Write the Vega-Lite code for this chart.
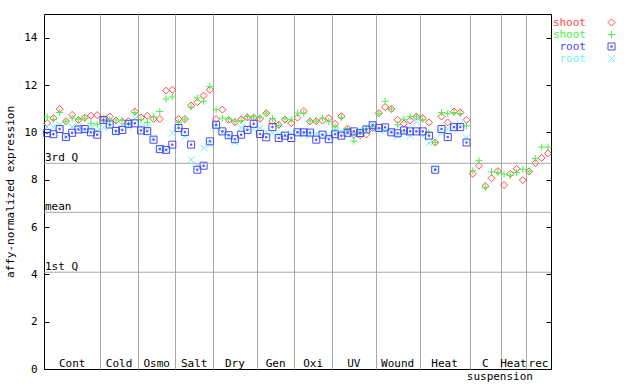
{
"$schema": "https://vega.github.io/schema/vega-lite/v6.json",
"width": 507, "height": 355,
"autosize": {"type": "none"},
"padding": {"left": 44, "top": 14, "right": 89, "bottom": 15},
"background": "white",
"config": {"view": {"stroke": "#000000", "strokeWidth": 1}, "font": "DejaVu Sans Mono"},
"datasets": {
"stats": [{"label": "3rd Q", "v": 8.69}, {"label": "mean", "v": 6.62}, {"label": "1st Q", "v": 4.09}],
"expr": [
{"i":0,"group":"Cont","tissue":"seedling","series":"shoot1","v":10.39},
{"i":1,"group":"Cont","tissue":"seedling","series":"shoot1","v":10.6},
{"i":2,"group":"Cont","tissue":"seedling","series":"shoot1","v":10.98},
{"i":3,"group":"Cont","tissue":"seedling","series":"shoot1","v":10.47},
{"i":4,"group":"Cont","tissue":"seedling","series":"shoot1","v":10.74},
{"i":5,"group":"Cont","tissue":"seedling","series":"shoot1","v":10.52},
{"i":6,"group":"Cont","tissue":"seedling","series":"shoot1","v":10.62},
{"i":7,"group":"Cont","tissue":"seedling","series":"shoot1","v":10.7},
{"i":8,"group":"Cont","tissue":"seedling","series":"shoot1","v":10.73},
{"i":9,"group":"Cold","tissue":"seedling","series":"shoot1","v":10.55},
{"i":10,"group":"Cold","tissue":"seedling","series":"shoot1","v":10.67},
{"i":11,"group":"Cold","tissue":"seedling","series":"shoot1","v":10.5},
{"i":12,"group":"Cold","tissue":"seedling","series":"shoot1","v":10.45},
{"i":13,"group":"Cold","tissue":"seedling","series":"shoot1","v":10.47},
{"i":14,"group":"Cold","tissue":"seedling","series":"shoot1","v":10.88},
{"i":15,"group":"Osmo","tissue":"seedling","series":"shoot1","v":10.63},
{"i":16,"group":"Osmo","tissue":"seedling","series":"shoot1","v":10.7},
{"i":17,"group":"Osmo","tissue":"seedling","series":"shoot1","v":10.57},
{"i":18,"group":"Osmo","tissue":"seedling","series":"shoot1","v":10.56},
{"i":19,"group":"Osmo","tissue":"seedling","series":"shoot1","v":11.76},
{"i":20,"group":"Osmo","tissue":"seedling","series":"shoot1","v":11.8},
{"i":21,"group":"Salt","tissue":"seedling","series":"shoot1","v":10.56},
{"i":22,"group":"Salt","tissue":"seedling","series":"shoot1","v":10.56},
{"i":23,"group":"Salt","tissue":"seedling","series":"shoot1","v":11.13},
{"i":24,"group":"Salt","tissue":"seedling","series":"shoot1","v":11.27},
{"i":25,"group":"Salt","tissue":"seedling","series":"shoot1","v":11.55},
{"i":26,"group":"Salt","tissue":"seedling","series":"shoot1","v":11.8},
{"i":27,"group":"Dry","tissue":"seedling","series":"shoot1","v":10.56},
{"i":28,"group":"Dry","tissue":"seedling","series":"shoot1","v":10.96},
{"i":29,"group":"Dry","tissue":"seedling","series":"shoot1","v":10.53},
{"i":30,"group":"Dry","tissue":"seedling","series":"shoot1","v":10.43},
{"i":31,"group":"Dry","tissue":"seedling","series":"shoot1","v":10.55},
{"i":32,"group":"Dry","tissue":"seedling","series":"shoot1","v":10.63},
{"i":33,"group":"Dry","tissue":"seedling","series":"shoot1","v":10.62},
{"i":34,"group":"Gen","tissue":"seedling","series":"shoot1","v":10.57},
{"i":35,"group":"Gen","tissue":"seedling","series":"shoot1","v":10.81},
{"i":36,"group":"Gen","tissue":"seedling","series":"shoot1","v":10.47},
{"i":37,"group":"Gen","tissue":"seedling","series":"shoot1","v":10.32},
{"i":38,"group":"Gen","tissue":"seedling","series":"shoot1","v":10.54},
{"i":39,"group":"Gen","tissue":"seedling","series":"shoot1","v":10.39},
{"i":40,"group":"Oxi","tissue":"seedling","series":"shoot1","v":10.62},
{"i":41,"group":"Oxi","tissue":"seedling","series":"shoot1","v":10.9},
{"i":42,"group":"Oxi","tissue":"seedling","series":"shoot1","v":10.46},
{"i":43,"group":"Oxi","tissue":"seedling","series":"shoot1","v":10.47},
{"i":44,"group":"Oxi","tissue":"seedling","series":"shoot1","v":10.5},
{"i":45,"group":"Oxi","tissue":"seedling","series":"shoot1","v":10.6},
{"i":46,"group":"UV","tissue":"seedling","series":"shoot1","v":10.36},
{"i":47,"group":"UV","tissue":"seedling","series":"shoot1","v":10.68},
{"i":48,"group":"UV","tissue":"seedling","series":"shoot1","v":10.16},
{"i":49,"group":"UV","tissue":"seedling","series":"shoot1","v":9.9},
{"i":50,"group":"UV","tissue":"seedling","series":"shoot1","v":9.88},
{"i":51,"group":"UV","tissue":"seedling","series":"shoot1","v":9.91},
{"i":52,"group":"UV","tissue":"seedling","series":"shoot1","v":10.18},
{"i":53,"group":"Wound","tissue":"seedling","series":"shoot1","v":10.81},
{"i":54,"group":"Wound","tissue":"seedling","series":"shoot1","v":11.07},
{"i":55,"group":"Wound","tissue":"seedling","series":"shoot1","v":10.98},
{"i":56,"group":"Wound","tissue":"seedling","series":"shoot1","v":10.53},
{"i":57,"group":"Wound","tissue":"seedling","series":"shoot1","v":10.37},
{"i":58,"group":"Wound","tissue":"seedling","series":"shoot1","v":10.5},
{"i":59,"group":"Wound","tissue":"seedling","series":"shoot1","v":10.67},
{"i":60,"group":"Heat","tissue":"seedling","series":"shoot1","v":10.6},
{"i":61,"group":"Heat","tissue":"seedling","series":"shoot1","v":10.42},
{"i":62,"group":"Heat","tissue":"seedling","series":"shoot1","v":9.57},
{"i":63,"group":"Heat","tissue":"seedling","series":"shoot1","v":10.67},
{"i":64,"group":"Heat","tissue":"seedling","series":"shoot1","v":10.42},
{"i":65,"group":"Heat","tissue":"seedling","series":"shoot1","v":10.88},
{"i":66,"group":"Heat","tissue":"seedling","series":"shoot1","v":10.84},
{"i":67,"group":"Heat","tissue":"seedling","series":"shoot1","v":10.53},
{"i":68,"group":"C","tissue":"suspension","series":"shoot1","v":8.25},
{"i":69,"group":"C","tissue":"suspension","series":"shoot1","v":8.59},
{"i":70,"group":"C","tissue":"suspension","series":"shoot1","v":7.73},
{"i":71,"group":"C","tissue":"suspension","series":"shoot1","v":8.06},
{"i":72,"group":"C","tissue":"suspension","series":"shoot1","v":8.36},
{"i":73,"group":"Heat","tissue":"suspension","series":"shoot1","v":7.77},
{"i":74,"group":"Heat","tissue":"suspension","series":"shoot1","v":8.25},
{"i":75,"group":"Heat","tissue":"suspension","series":"shoot1","v":8.46},
{"i":76,"group":"Heat","tissue":"suspension","series":"shoot1","v":7.98},
{"i":77,"group":"rec","tissue":"suspension","series":"shoot1","v":8.35},
{"i":78,"group":"rec","tissue":"suspension","series":"shoot1","v":8.7},
{"i":79,"group":"rec","tissue":"suspension","series":"shoot1","v":8.92},
{"i":80,"group":"rec","tissue":"suspension","series":"shoot1","v":9.11},
{"i":0,"group":"Cont","tissue":"seedling","series":"shoot2","v":10.65},
{"i":1,"group":"Cont","tissue":"seedling","series":"shoot2","v":10.55},
{"i":2,"group":"Cont","tissue":"seedling","series":"shoot2","v":10.84},
{"i":3,"group":"Cont","tissue":"seedling","series":"shoot2","v":10.47},
{"i":4,"group":"Cont","tissue":"seedling","series":"shoot2","v":10.6},
{"i":5,"group":"Cont","tissue":"seedling","series":"shoot2","v":10.55},
{"i":6,"group":"Cont","tissue":"seedling","series":"shoot2","v":10.6},
{"i":7,"group":"Cont","tissue":"seedling","series":"shoot2","v":10.38},
{"i":8,"group":"Cont","tissue":"seedling","series":"shoot2","v":10.34},
{"i":9,"group":"Cold","tissue":"seedling","series":"shoot2","v":10.52},
{"i":10,"group":"Cold","tissue":"seedling","series":"shoot2","v":10.53},
{"i":11,"group":"Cold","tissue":"seedling","series":"shoot2","v":10.52},
{"i":12,"group":"Cold","tissue":"seedling","series":"shoot2","v":10.5},
{"i":13,"group":"Cold","tissue":"seedling","series":"shoot2","v":10.35},
{"i":14,"group":"Cold","tissue":"seedling","series":"shoot2","v":10.83},
{"i":15,"group":"Osmo","tissue":"seedling","series":"shoot2","v":10.53},
{"i":16,"group":"Osmo","tissue":"seedling","series":"shoot2","v":10.42},
{"i":17,"group":"Osmo","tissue":"seedling","series":"shoot2","v":10.65},
{"i":18,"group":"Osmo","tissue":"seedling","series":"shoot2","v":10.88},
{"i":19,"group":"Osmo","tissue":"seedling","series":"shoot2","v":11.41},
{"i":20,"group":"Osmo","tissue":"seedling","series":"shoot2","v":11.49},
{"i":21,"group":"Salt","tissue":"seedling","series":"shoot2","v":10.42},
{"i":22,"group":"Salt","tissue":"seedling","series":"shoot2","v":10.56},
{"i":23,"group":"Salt","tissue":"seedling","series":"shoot2","v":11.07},
{"i":24,"group":"Salt","tissue":"seedling","series":"shoot2","v":11.45},
{"i":25,"group":"Salt","tissue":"seedling","series":"shoot2","v":11.31},
{"i":26,"group":"Salt","tissue":"seedling","series":"shoot2","v":11.94},
{"i":27,"group":"Dry","tissue":"seedling","series":"shoot2","v":10.96},
{"i":28,"group":"Dry","tissue":"seedling","series":"shoot2","v":10.6},
{"i":29,"group":"Dry","tissue":"seedling","series":"shoot2","v":10.56},
{"i":30,"group":"Dry","tissue":"seedling","series":"shoot2","v":10.46},
{"i":31,"group":"Dry","tissue":"seedling","series":"shoot2","v":10.5},
{"i":32,"group":"Dry","tissue":"seedling","series":"shoot2","v":10.67},
{"i":33,"group":"Dry","tissue":"seedling","series":"shoot2","v":10.65},
{"i":34,"group":"Gen","tissue":"seedling","series":"shoot2","v":10.63},
{"i":35,"group":"Gen","tissue":"seedling","series":"shoot2","v":10.81},
{"i":36,"group":"Gen","tissue":"seedling","series":"shoot2","v":10.58},
{"i":37,"group":"Gen","tissue":"seedling","series":"shoot2","v":10.29},
{"i":38,"group":"Gen","tissue":"seedling","series":"shoot2","v":10.57},
{"i":39,"group":"Gen","tissue":"seedling","series":"shoot2","v":10.53},
{"i":40,"group":"Oxi","tissue":"seedling","series":"shoot2","v":10.81},
{"i":41,"group":"Oxi","tissue":"seedling","series":"shoot2","v":10.81},
{"i":42,"group":"Oxi","tissue":"seedling","series":"shoot2","v":10.48},
{"i":43,"group":"Oxi","tissue":"seedling","series":"shoot2","v":10.47},
{"i":44,"group":"Oxi","tissue":"seedling","series":"shoot2","v":10.6},
{"i":45,"group":"Oxi","tissue":"seedling","series":"shoot2","v":10.45},
{"i":46,"group":"UV","tissue":"seedling","series":"shoot2","v":10.23},
{"i":47,"group":"UV","tissue":"seedling","series":"shoot2","v":10.62},
{"i":48,"group":"UV","tissue":"seedling","series":"shoot2","v":10.16},
{"i":49,"group":"UV","tissue":"seedling","series":"shoot2","v":9.63},
{"i":50,"group":"UV","tissue":"seedling","series":"shoot2","v":10.02},
{"i":51,"group":"UV","tissue":"seedling","series":"shoot2","v":10.16},
{"i":52,"group":"UV","tissue":"seedling","series":"shoot2","v":10.22},
{"i":53,"group":"Wound","tissue":"seedling","series":"shoot2","v":10.79},
{"i":54,"group":"Wound","tissue":"seedling","series":"shoot2","v":11.31},
{"i":55,"group":"Wound","tissue":"seedling","series":"shoot2","v":10.98},
{"i":56,"group":"Wound","tissue":"seedling","series":"shoot2","v":10.32},
{"i":57,"group":"Wound","tissue":"seedling","series":"shoot2","v":10.56},
{"i":58,"group":"Wound","tissue":"seedling","series":"shoot2","v":10.67},
{"i":59,"group":"Wound","tissue":"seedling","series":"shoot2","v":10.68},
{"i":60,"group":"Heat","tissue":"seedling","series":"shoot2","v":10.53},
{"i":61,"group":"Heat","tissue":"seedling","series":"shoot2","v":10.0},
{"i":62,"group":"Heat","tissue":"seedling","series":"shoot2","v":9.57},
{"i":63,"group":"Heat","tissue":"seedling","series":"shoot2","v":10.84},
{"i":64,"group":"Heat","tissue":"seedling","series":"shoot2","v":10.79},
{"i":65,"group":"Heat","tissue":"seedling","series":"shoot2","v":10.84},
{"i":66,"group":"Heat","tissue":"seedling","series":"shoot2","v":10.79},
{"i":67,"group":"Heat","tissue":"seedling","series":"shoot2","v":10.27},
{"i":68,"group":"C","tissue":"suspension","series":"shoot2","v":8.38},
{"i":69,"group":"C","tissue":"suspension","series":"shoot2","v":8.8},
{"i":70,"group":"C","tissue":"suspension","series":"shoot2","v":7.68},
{"i":71,"group":"C","tissue":"suspension","series":"shoot2","v":8.33},
{"i":72,"group":"C","tissue":"suspension","series":"shoot2","v":8.3},
{"i":73,"group":"Heat","tissue":"suspension","series":"shoot2","v":8.24},
{"i":74,"group":"Heat","tissue":"suspension","series":"shoot2","v":8.18},
{"i":75,"group":"Heat","tissue":"suspension","series":"shoot2","v":8.3},
{"i":76,"group":"Heat","tissue":"suspension","series":"shoot2","v":8.44},
{"i":77,"group":"rec","tissue":"suspension","series":"shoot2","v":8.36},
{"i":78,"group":"rec","tissue":"suspension","series":"shoot2","v":8.89},
{"i":79,"group":"rec","tissue":"suspension","series":"shoot2","v":9.38},
{"i":80,"group":"rec","tissue":"suspension","series":"shoot2","v":9.38},
{"i":0,"group":"Cont","tissue":"seedling","series":"root2","v":10.22},
{"i":1,"group":"Cont","tissue":"seedling","series":"root2","v":10.22},
{"i":2,"group":"Cont","tissue":"seedling","series":"root2","v":10.32},
{"i":3,"group":"Cont","tissue":"seedling","series":"root2","v":9.82},
{"i":4,"group":"Cont","tissue":"seedling","series":"root2","v":10.23},
{"i":5,"group":"Cont","tissue":"seedling","series":"root2","v":10.25},
{"i":6,"group":"Cont","tissue":"seedling","series":"root2","v":10.05},
{"i":7,"group":"Cont","tissue":"seedling","series":"root2","v":10.16},
{"i":8,"group":"Cont","tissue":"seedling","series":"root2","v":10.06},
{"i":9,"group":"Cold","tissue":"seedling","series":"root2","v":10.2},
{"i":10,"group":"Cold","tissue":"seedling","series":"root2","v":10.25},
{"i":11,"group":"Cold","tissue":"seedling","series":"root2","v":9.98},
{"i":12,"group":"Cold","tissue":"seedling","series":"root2","v":10.3},
{"i":13,"group":"Cold","tissue":"seedling","series":"root2","v":10.22},
{"i":14,"group":"Cold","tissue":"seedling","series":"root2","v":10.58},
{"i":15,"group":"Osmo","tissue":"seedling","series":"root2","v":10.25},
{"i":16,"group":"Osmo","tissue":"seedling","series":"root2","v":10.2},
{"i":17,"group":"Osmo","tissue":"seedling","series":"root2","v":9.76},
{"i":18,"group":"Osmo","tissue":"seedling","series":"root2","v":9.33},
{"i":19,"group":"Osmo","tissue":"seedling","series":"root2","v":9.26},
{"i":20,"group":"Osmo","tissue":"seedling","series":"root2","v":9.97},
{"i":21,"group":"Salt","tissue":"seedling","series":"root2","v":10.25},
{"i":22,"group":"Salt","tissue":"seedling","series":"root2","v":9.83},
{"i":23,"group":"Salt","tissue":"seedling","series":"root2","v":8.84},
{"i":24,"group":"Salt","tissue":"seedling","series":"root2","v":8.59},
{"i":25,"group":"Salt","tissue":"seedling","series":"root2","v":9.33},
{"i":26,"group":"Salt","tissue":"seedling","series":"root2","v":9.48},
{"i":27,"group":"Dry","tissue":"seedling","series":"root2","v":10.22},
{"i":28,"group":"Dry","tissue":"seedling","series":"root2","v":10.0},
{"i":29,"group":"Dry","tissue":"seedling","series":"root2","v":9.83},
{"i":30,"group":"Dry","tissue":"seedling","series":"root2","v":9.58},
{"i":31,"group":"Dry","tissue":"seedling","series":"root2","v":10.2},
{"i":32,"group":"Dry","tissue":"seedling","series":"root2","v":10.2},
{"i":33,"group":"Dry","tissue":"seedling","series":"root2","v":10.14},
{"i":34,"group":"Gen","tissue":"seedling","series":"root2","v":10.18},
{"i":35,"group":"Gen","tissue":"seedling","series":"root2","v":10.0},
{"i":36,"group":"Gen","tissue":"seedling","series":"root2","v":9.98},
{"i":37,"group":"Gen","tissue":"seedling","series":"root2","v":9.91},
{"i":38,"group":"Gen","tissue":"seedling","series":"root2","v":9.9},
{"i":39,"group":"Gen","tissue":"seedling","series":"root2","v":9.96},
{"i":40,"group":"Oxi","tissue":"seedling","series":"root2","v":10.0},
{"i":41,"group":"Oxi","tissue":"seedling","series":"root2","v":9.92},
{"i":42,"group":"Oxi","tissue":"seedling","series":"root2","v":9.88},
{"i":43,"group":"Oxi","tissue":"seedling","series":"root2","v":9.93},
{"i":44,"group":"Oxi","tissue":"seedling","series":"root2","v":9.88},
{"i":45,"group":"Oxi","tissue":"seedling","series":"root2","v":9.86},
{"i":46,"group":"UV","tissue":"seedling","series":"root2","v":10.06},
{"i":47,"group":"UV","tissue":"seedling","series":"root2","v":10.05},
{"i":48,"group":"UV","tissue":"seedling","series":"root2","v":9.96},
{"i":49,"group":"UV","tissue":"seedling","series":"root2","v":9.92},
{"i":50,"group":"UV","tissue":"seedling","series":"root2","v":9.98},
{"i":51,"group":"UV","tissue":"seedling","series":"root2","v":10.18},
{"i":52,"group":"UV","tissue":"seedling","series":"root2","v":10.32},
{"i":53,"group":"Wound","tissue":"seedling","series":"root2","v":10.1},
{"i":54,"group":"Wound","tissue":"seedling","series":"root2","v":10.06},
{"i":55,"group":"Wound","tissue":"seedling","series":"root2","v":10.05},
{"i":56,"group":"Wound","tissue":"seedling","series":"root2","v":9.83},
{"i":57,"group":"Wound","tissue":"seedling","series":"root2","v":9.98},
{"i":58,"group":"Wound","tissue":"seedling","series":"root2","v":9.85},
{"i":59,"group":"Wound","tissue":"seedling","series":"root2","v":10.45},
{"i":60,"group":"Heat","tissue":"seedling","series":"root2","v":9.83},
{"i":61,"group":"Heat","tissue":"seedling","series":"root2","v":9.55},
{"i":62,"group":"Heat","tissue":"seedling","series":"root2","v":8.45},
{"i":63,"group":"Heat","tissue":"seedling","series":"root2","v":9.97},
{"i":64,"group":"Heat","tissue":"seedling","series":"root2","v":10.14},
{"i":65,"group":"Heat","tissue":"seedling","series":"root2","v":10.22},
{"i":66,"group":"Heat","tissue":"seedling","series":"root2","v":10.36},
{"i":67,"group":"Heat","tissue":"seedling","series":"root2","v":9.76},
{"i":0,"group":"Cont","tissue":"seedling","series":"root1","v":9.97},
{"i":1,"group":"Cont","tissue":"seedling","series":"root1","v":9.92},
{"i":2,"group":"Cont","tissue":"seedling","series":"root1","v":10.14},
{"i":3,"group":"Cont","tissue":"seedling","series":"root1","v":9.8},
{"i":4,"group":"Cont","tissue":"seedling","series":"root1","v":9.98},
{"i":5,"group":"Cont","tissue":"seedling","series":"root1","v":10.12},
{"i":6,"group":"Cont","tissue":"seedling","series":"root1","v":10.14},
{"i":7,"group":"Cont","tissue":"seedling","series":"root1","v":10.0},
{"i":8,"group":"Cont","tissue":"seedling","series":"root1","v":9.9},
{"i":9,"group":"Cold","tissue":"seedling","series":"root1","v":10.52},
{"i":10,"group":"Cold","tissue":"seedling","series":"root1","v":10.33},
{"i":11,"group":"Cold","tissue":"seedling","series":"root1","v":10.06},
{"i":12,"group":"Cold","tissue":"seedling","series":"root1","v":10.1},
{"i":13,"group":"Cold","tissue":"seedling","series":"root1","v":10.36},
{"i":14,"group":"Cold","tissue":"seedling","series":"root1","v":10.38},
{"i":15,"group":"Osmo","tissue":"seedling","series":"root1","v":10.08},
{"i":16,"group":"Osmo","tissue":"seedling","series":"root1","v":10.05},
{"i":17,"group":"Osmo","tissue":"seedling","series":"root1","v":9.69},
{"i":18,"group":"Osmo","tissue":"seedling","series":"root1","v":9.29},
{"i":19,"group":"Osmo","tissue":"seedling","series":"root1","v":9.26},
{"i":20,"group":"Osmo","tissue":"seedling","series":"root1","v":9.48},
{"i":21,"group":"Salt","tissue":"seedling","series":"root1","v":10.18},
{"i":22,"group":"Salt","tissue":"seedling","series":"root1","v":10.01},
{"i":23,"group":"Salt","tissue":"seedling","series":"root1","v":9.48},
{"i":24,"group":"Salt","tissue":"seedling","series":"root1","v":8.42},
{"i":25,"group":"Salt","tissue":"seedling","series":"root1","v":8.59},
{"i":26,"group":"Salt","tissue":"seedling","series":"root1","v":9.62},
{"i":27,"group":"Dry","tissue":"seedling","series":"root1","v":10.32},
{"i":28,"group":"Dry","tissue":"seedling","series":"root1","v":10.04},
{"i":29,"group":"Dry","tissue":"seedling","series":"root1","v":9.88},
{"i":30,"group":"Dry","tissue":"seedling","series":"root1","v":9.71},
{"i":31,"group":"Dry","tissue":"seedling","series":"root1","v":9.9},
{"i":32,"group":"Dry","tissue":"seedling","series":"root1","v":10.1},
{"i":33,"group":"Dry","tissue":"seedling","series":"root1","v":10.36},
{"i":34,"group":"Gen","tissue":"seedling","series":"root1","v":9.93},
{"i":35,"group":"Gen","tissue":"seedling","series":"root1","v":9.79},
{"i":36,"group":"Gen","tissue":"seedling","series":"root1","v":10.22},
{"i":37,"group":"Gen","tissue":"seedling","series":"root1","v":9.76},
{"i":38,"group":"Gen","tissue":"seedling","series":"root1","v":9.86},
{"i":39,"group":"Gen","tissue":"seedling","series":"root1","v":9.76},
{"i":40,"group":"Oxi","tissue":"seedling","series":"root1","v":10.0},
{"i":41,"group":"Oxi","tissue":"seedling","series":"root1","v":10.0},
{"i":42,"group":"Oxi","tissue":"seedling","series":"root1","v":9.99},
{"i":43,"group":"Oxi","tissue":"seedling","series":"root1","v":9.69},
{"i":44,"group":"Oxi","tissue":"seedling","series":"root1","v":9.9},
{"i":45,"group":"Oxi","tissue":"seedling","series":"root1","v":9.71},
{"i":46,"group":"UV","tissue":"seedling","series":"root1","v":9.92},
{"i":47,"group":"UV","tissue":"seedling","series":"root1","v":9.86},
{"i":48,"group":"UV","tissue":"seedling","series":"root1","v":9.98},
{"i":49,"group":"UV","tissue":"seedling","series":"root1","v":10.04},
{"i":50,"group":"UV","tissue":"seedling","series":"root1","v":9.97},
{"i":51,"group":"UV","tissue":"seedling","series":"root1","v":10.12},
{"i":52,"group":"UV","tissue":"seedling","series":"root1","v":10.3},
{"i":53,"group":"Wound","tissue":"seedling","series":"root1","v":10.18},
{"i":54,"group":"Wound","tissue":"seedling","series":"root1","v":10.21},
{"i":55,"group":"Wound","tissue":"seedling","series":"root1","v":10.0},
{"i":56,"group":"Wound","tissue":"seedling","series":"root1","v":9.96},
{"i":57,"group":"Wound","tissue":"seedling","series":"root1","v":10.08},
{"i":58,"group":"Wound","tissue":"seedling","series":"root1","v":10.04},
{"i":59,"group":"Wound","tissue":"seedling","series":"root1","v":10.04},
{"i":60,"group":"Heat","tissue":"seedling","series":"root1","v":10.04},
{"i":61,"group":"Heat","tissue":"seedling","series":"root1","v":9.86},
{"i":62,"group":"Heat","tissue":"seedling","series":"root1","v":8.42},
{"i":63,"group":"Heat","tissue":"seedling","series":"root1","v":10.14},
{"i":64,"group":"Heat","tissue":"seedling","series":"root1","v":9.8},
{"i":65,"group":"Heat","tissue":"seedling","series":"root1","v":10.22},
{"i":66,"group":"Heat","tissue":"seedling","series":"root1","v":10.22},
{"i":67,"group":"Heat","tissue":"seedling","series":"root1","v":9.57}
]
},
"layer": [
{
"layer": [
{
"data": {"name": "expr"},
"mark": {"type": "point", "filled": false, "strokeWidth": 1, "size": 49, "opacity": 1},
"encoding": {
"x": {"field": "i", "type": "quantitative", "scale": {"domain": [-0.5, 80.5], "nice": false, "zero": false},
"axis": {"values": [8.5, 14.5, 20.5, 26.5, 33.5, 39.5, 45.5, 52.5, 59.5, 67.5, 72.5, 76.5], "grid": true, "gridColor": "#a8a8a8", "gridOpacity": 1, "gridWidth": 1, "labels": false, "ticks": false, "domain": false, "title": null}},
"y": {"field": "v", "type": "quantitative", "scale": {"domain": [0, 15], "nice": false},
"axis": {"orient": "left", "values": [0, 2, 4, 6, 8, 10, 12, 14], "grid": false, "domain": false, "tickSize": -5, "tickColor": "#000000", "labelPadding": 12, "labelFont": "DejaVu Sans Mono", "labelFontSize": 11, "labelColor": "#000000", "title": "affy-normalized expression", "titleFont": "DejaVu Sans Mono", "titleFontSize": 11, "titleFontWeight": "normal", "titleColor": "#000000", "titlePadding": 8}},
"color": {"field": "series", "type": "nominal",
"scale": {"domain": ["shoot1", "shoot2", "root1", "root2"], "range": ["#ff4848", "#48f048", "#4848f8", "#6cf0f0"]},
"legend": {"title": null, "orient": "none", "legendX": 562, "legendY": 3, "padding": 0, "labelAlign": "right", "labelOffset": -31, "labelFont": "DejaVu Sans Mono", "labelFontSize": 11, "labelExpr": "slice(datum.label, 0, -1)", "labelColor": {"expr": "datum.value == 'shoot1' ? '#ff4848' : datum.value == 'shoot2' ? '#48f048' : datum.value == 'root1' ? '#4848f8' : '#6cf0f0'"}, "symbolSize": 49, "symbolStrokeWidth": 1, "rowPadding": 0}},
"shape": {"field": "series", "type": "nominal",
"scale": {"domain": ["shoot1", "shoot2", "root1", "root2"], "range": ["M0,-1L1,0L0,1L-1,0Z", "M-1,0L1,0M0,-1L0,1", "M-1,-1L1,-1L1,1L-1,1ZM-0.2,-0.2L0.2,-0.2L0.2,0.2L-0.2,0.2Z", "M-1,-1L1,1M-1,1L1,-1"]},
"legend": {"title": null, "orient": "none", "legendX": 562, "legendY": 3, "padding": 0, "labelAlign": "right", "labelOffset": -31, "labelFont": "DejaVu Sans Mono", "labelFontSize": 11, "labelExpr": "slice(datum.label, 0, -1)", "labelColor": {"expr": "datum.value == 'shoot1' ? '#ff4848' : datum.value == 'shoot2' ? '#48f048' : datum.value == 'root1' ? '#4848f8' : '#6cf0f0'"}, "symbolSize": 49, "symbolStrokeWidth": 1, "rowPadding": 0}}
}
},
{
"data": {"name": "stats"},
"mark": {"type": "rule", "color": "#a8a8a8", "strokeWidth": 1},
"encoding": {
"y": {"field": "v", "type": "quantitative"}
}
},
{
"data": {"name": "stats"},
"mark": {"type": "text", "align": "left", "baseline": "alphabetic", "dx": 1, "dy": -2, "font": "DejaVu Sans Mono", "fontSize": 11, "color": "#000000"},
"encoding": {
"x": {"datum": -0.5, "type": "quantitative"},
"y": {"field": "v", "type": "quantitative"},
"text": {"field": "label"}
}
},
{
"data": {"name": "expr"},
"transform": [{"filter": "datum.series == 'shoot1'"}],
"mark": {"type": "text", "align": "center", "baseline": "alphabetic", "dy": -2, "font": "DejaVu Sans Mono", "fontSize": 11, "color": "#000000"},
"encoding": {
"x": {"aggregate": "mean", "field": "i", "type": "quantitative"},
"y": {"datum": 0, "type": "quantitative"},
"text": {"field": "group"},
"detail": {"field": "tissue"}
}
},
{
"data": {"name": "expr"},
"transform": [{"filter": "datum.series == 'shoot1' && datum.tissue == 'suspension'"}],
"mark": {"type": "text", "align": "left", "baseline": "alphabetic", "dx": -6, "dy": 11, "font": "DejaVu Sans Mono", "fontSize": 11, "color": "#000000"},
"encoding": {
"x": {"aggregate": "min", "field": "i", "type": "quantitative"},
"y": {"datum": 0, "type": "quantitative"},
"text": {"field": "tissue"}
}
}
]
},
{
"data": {"name": "stats"},
"mark": {"type": "rule", "opacity": 0},
"encoding": {
"y": {"field": "v", "type": "quantitative",
"axis": {"orient": "right", "values": [0, 2, 4, 6, 8, 10, 12, 14], "labels": false, "domain": false, "grid": false, "tickSize": -5, "tickColor": "#000000", "title": null}}
}
}
]
}
